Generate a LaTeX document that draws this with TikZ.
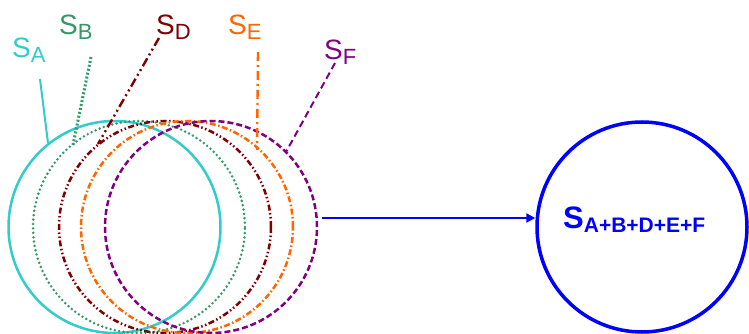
\documentclass[tikz,border=0pt]{standalone}
\usepackage{fontspec}
\setmainfont{Liberation Sans}
\usetikzlibrary{arrows.meta}
\definecolor{cA}{HTML}{33CCCC}
\definecolor{cB}{HTML}{339966}
\definecolor{cD}{HTML}{800000}
\definecolor{cE}{HTML}{FF6600}
\definecolor{cF}{HTML}{800080}
\definecolor{cS}{HTML}{0000FF}
\tikzset{
  ring/.style={circle, minimum size=212pt, inner sep=0pt, line width=2.5pt},
  ringA/.style={ring, draw=cA},
  ringB/.style={ring, draw=cB, line cap=round, dash pattern=on 0pt off 4.4pt, line width=2.8pt},
  ringD/.style={ring, draw=cD, dash pattern=on 6pt off 2.5pt on 1.5pt off 2.5pt on 1.5pt off 2.5pt},
  ringE/.style={ring, draw=cE, dash pattern=on 6pt off 2.5pt on 1.5pt off 2.5pt},
  ringF/.style={ring, draw=cF, dash pattern=on 6pt off 3pt},
  lead/.style={line width=2pt},
  lbl/.style={inner sep=0pt, anchor=base west, font=\fontsize{28}{30}\selectfont},
}
\newcommand{\subl}[1]{\raisebox{-4.5pt}{\fontsize{22}{24}\selectfont #1}}
\begin{document}
\begin{tikzpicture}[x=1pt,y=-1pt]
\useasboundingbox (0,0) rectangle (749,334);
% rings
\node[ringA] (A) at (114.5,227) {};
\node[ringB] (B) at (139,227) {};
\node[ringD] (D) at (165,227) {};
\node[ringE] (E) at (187,227) {};
\node[ringF] (F) at (211,227) {};
\node[circle, minimum size=210pt, inner sep=0pt, line width=3.5pt, draw=cS] (S) at (642,227) {};
% labels
\node[lbl, text=cA] (lA) at (12,58) {S\subl{A}};
\node[lbl, text=cB] (lB) at (59,35) {S\subl{B}};
\node[lbl, text=cD] (lD) at (156,35) {S\subl{D}};
\node[lbl, text=cE] (lE) at (228,35) {S\subl{E}};
\node[lbl, text=cF] (lF) at (324,60) {S\subl{F}};
\node[inner sep=0pt, anchor=base west, text=cS, font=\bfseries] (lS) at (563,228)
  {\fontsize{31}{33}\selectfont S\raisebox{-4pt}{\fontsize{21}{23}\selectfont A+B+D+E+F}};
% leader ends
\coordinate (a1) at (40,79);  \coordinate (a2) at (48,143);
\coordinate (b1) at (91,57);  \coordinate (b2) at (73,145);
\coordinate (d1) at (159,38); \coordinate (d2) at (98,144);
\coordinate (e1) at (258,52); \coordinate (e2) at (257,150);
\coordinate (f1) at (335,63); \coordinate (f2) at (286,152);
\draw[lead, cA] (a1) -- (a2);
\draw[lead, cB, line width=3pt, dash pattern=on 2pt off 2pt] (b1) -- (b2);
\draw[lead, cD, line width=2.4pt, dash pattern=on 9pt off 3.5pt on 2pt off 3.5pt on 2pt off 3.5pt] (d1) -- (d2);
\draw[lead, cE, line width=2.4pt, dash pattern=on 9pt off 4pt on 2pt off 4pt] (e1) -- (e2);
\draw[lead, cF, dash pattern=on 7pt off 4pt] (f1) -- (f2);
% arrow
\coordinate (r1) at (322,218);
\coordinate (r2) at (S.west |- r1);
\draw[cS, line width=2.6pt, -{Triangle[length=9pt,width=9pt]}] (r1) -- (r2);
\end{tikzpicture}
\end{document}
